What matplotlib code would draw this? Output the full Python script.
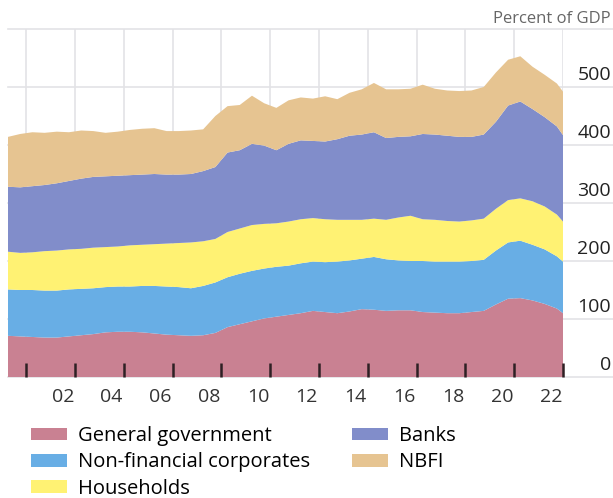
import numpy as np
import matplotlib
matplotlib.use("Agg")
import matplotlib.pyplot as plt
import matplotlib.transforms as mtransforms
from matplotlib.patches import Patch

plt.rcParams['font.family'] = ['Open Sans', 'DejaVu Sans']

# half-yearly observations, decimal years (first obs 2000.25, last 2023.0)
dates = np.append(np.arange(2000.25, 2023.0, 0.5), 2023.0)

# percent of GDP, layer values
general_government = [71, 70, 69, 68, 68, 70, 72, 74, 77, 78, 78, 77, 75, 73, 72, 71,
                      72, 76, 86, 91, 96, 101, 104, 107, 110, 114, 112, 110, 113, 117, 116, 114,
                      115, 115, 112, 111, 110, 110, 112, 114, 125, 135, 136, 132, 126, 118, 110]
non_financial_corporates = [80, 80, 81, 81, 81, 81, 80, 79, 78, 78, 78, 80, 82, 83, 83, 82,
                            85, 87, 86, 87, 87, 86, 86, 85, 86, 85, 86, 89, 88, 87, 91, 89,
                            86, 85, 88, 88, 89, 89, 88, 88, 93, 97, 99, 96, 94, 90, 89]
households = [65, 64, 65, 68, 69, 69, 69, 70, 69, 69, 71, 71, 72, 74, 76, 79,
              77, 75, 78, 78, 79, 77, 75, 76, 76, 75, 74, 72, 70, 67, 66, 68,
              74, 78, 72, 72, 70, 69, 70, 71, 72, 73, 73, 75, 74, 72, 69]
banks = [112, 113, 114, 114, 116, 118, 121, 122, 122, 122, 121, 121, 121, 119, 118, 118,
         121, 124, 137, 135, 140, 135, 126, 134, 136, 133, 134, 139, 145, 147, 149, 141,
         139, 137, 147, 147, 147, 146, 144, 145, 150, 163, 167, 159, 154, 152, 149]
nbfi = [86, 92, 93, 90, 89, 84, 83, 79, 75, 76, 78, 79, 79, 75, 75, 75,
        72, 88, 80, 78, 83, 73, 73, 75, 74, 73, 78, 69, 74, 78, 85, 84,
        82, 82, 85, 79, 78, 79, 80, 82, 85, 79, 78, 73, 73, 74, 75]

labels = ["General government", "Non-financial corporates", "Households", "Banks", "NBFI"]
colors = ["#C98192", "#68AEE5", "#FFF273", "#818DCA", "#E6C491"]

y_ticks = [0, 100, 200, 300, 400, 500]
major_years = np.arange(2001, 2024, 2)
label_years = np.arange(2002, 2023, 2)

W, H = 613, 498
fig = plt.figure(figsize=(W / 100, H / 100), dpi=100)
ax_left, ax_right, ax_bottom, ax_top = 8, 563, 377, 29
ax = fig.add_axes([ax_left / W, 1 - ax_bottom / H, (ax_right - ax_left) / W, (ax_bottom - ax_top) / H])

polys = ax.stackplot(dates, general_government, non_financial_corporates, households, banks, nbfi,
                     colors=colors, linewidth=0)
for p in polys:
    p.set_zorder(2)

ax.set_xlim(2000.25, 2023.0)
ax.set_ylim(0, 600)

# grid drawn by hand so it stays under the areas
grid_color = "#E3E3E6"
xmax_frac = (W - ax_left) / (ax_right - ax_left)
for v in y_ticks + [600]:
    ax.axhline(v, xmin=0, xmax=xmax_frac, color=grid_color, lw=1.2, zorder=0, clip_on=False)
for yr in major_years:
    ax.axvline(yr, color=grid_color, lw=1.2, zorder=0)

# year-boundary tick marks drawn on top of the areas
tick_len = 14 / (ax_bottom - ax_top)
for yr in major_years:
    ax.plot([yr, yr], [0, tick_len], transform=ax.get_xaxis_transform(),
            color="#2E2024", linewidth=1.8, zorder=10, clip_on=False, solid_capstyle="butt")

for s in ax.spines.values():
    s.set_visible(False)

ax.set_xticks([])
ax.set_xticks(label_years + 0.5, minor=True)
ax.set_xticklabels([f"{y % 100:02d}" for y in label_years], minor=True)
ax.tick_params(axis="x", which="minor", length=0, pad=8, labelsize=14, labelcolor="#333333")
ax.set_yticks([])

# y labels on the right, sitting just above their gridlines
lbl_tf = mtransforms.blended_transform_factory(ax.transAxes, ax.transData)
lbl_tf = lbl_tf + mtransforms.ScaledTranslation(0, 5 / 72, fig.dpi_scale_trans)
x_lbl = (611 - ax_left) / (ax_right - ax_left)
for v in y_ticks:
    ax.text(x_lbl, v, str(v), transform=lbl_tf, ha="right", va="baseline",
            fontsize=14, color="#222222", clip_on=False)

fig.text(611 / W, 1 - 19 / H, "Percent of GDP", ha="right", va="center",
         fontsize=12, color="#666666")

handles = [Patch(facecolor=c, edgecolor="none") for c in colors]
fig.legend(handles, labels, ncol=2, loc="upper left", bbox_to_anchor=(31 / W, 1 - 426 / H),
           frameon=False, fontsize=14.5, handlelength=1.8, handleheight=0.6,
           handletextpad=0.55, columnspacing=2.05, labelspacing=0.32, borderpad=0,
           borderaxespad=0)

fig.savefig("out.png", dpi=100)
